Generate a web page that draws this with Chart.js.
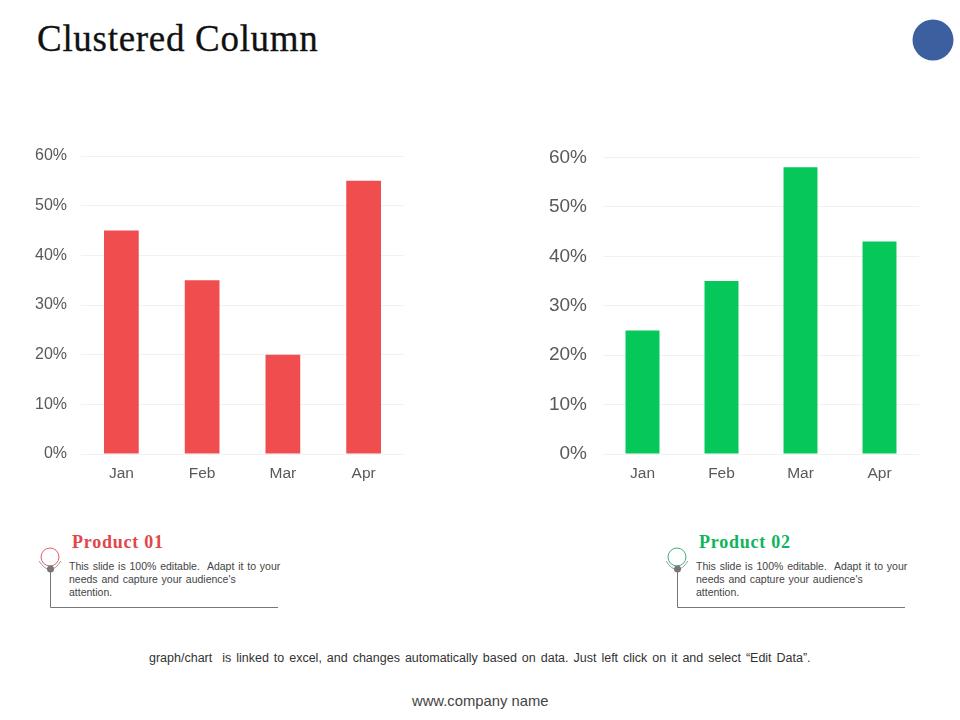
<!DOCTYPE html>
<html><head><meta charset="utf-8">
<script src="https://cdn.jsdelivr.net/npm/chart.js@4"></script>
<style>
html,body{margin:0;padding:0;background:#fff;width:960px;height:720px;overflow:hidden}
.t{position:absolute;white-space:nowrap;font-family:"Liberation Sans",sans-serif}
.s{font-family:"Liberation Serif",serif}
canvas{position:absolute}
svg{position:absolute;left:0;top:0}
</style></head><body>
<div class="t s" id="title" style="left:37px;top:18px;font-size:37px;line-height:42px;color:#111;letter-spacing:.7px;-webkit-text-stroke:.3px #111">Clustered Column</div>
<svg width="960" height="720">
<circle cx="933" cy="40" r="20.5" fill="#3c5fa0"/>
<g fill="none" stroke="#777" stroke-width="1"><path d="M50.500 569V607.500H278"/><path d="M677.500 569V607.500H905"/></g>
<circle cx="50" cy="557" r="9" fill="none" stroke="#d9616a" stroke-width="1"/>
<path d="M39 561Q50 578 61 561" fill="none" stroke="#999" stroke-width="1"/>
<circle cx="50.500" cy="569" r="3.500" fill="#777"/>
<circle cx="677" cy="557" r="9" fill="none" stroke="#3fae78" stroke-width="1"/>
<path d="M666 561Q677 578 688 561" fill="none" stroke="#999" stroke-width="1"/>
<circle cx="677.500" cy="569" r="3.500" fill="#777"/>
</svg>
<canvas id="a" style="left:0;top:130px;width:480px;height:360px"></canvas>
<canvas id="b" style="left:480px;top:130px;width:480px;height:360px"></canvas>
<div class="t s" style="left:72px;top:531px;font-size:18px;line-height:22px;font-weight:bold;color:#e0474c;letter-spacing:.75px">Product 01</div>
<div class="t s" style="left:699px;top:531px;font-size:18px;line-height:22px;font-weight:bold;color:#10b45c;letter-spacing:.75px">Product 02</div>
<div class="t" style="left:69px;top:560px;font-size:10.500px;line-height:13px;color:#444;word-spacing:.9px">This slide is 100% editable.&nbsp; Adapt it to your<br>needs and capture your audience's<br>attention.</div>
<div class="t" style="left:696px;top:560px;font-size:10.500px;line-height:13px;color:#444;word-spacing:.9px">This slide is 100% editable.&nbsp; Adapt it to your<br>needs and capture your audience's<br>attention.</div>
<div class="t" style="left:149px;top:651px;font-size:12.500px;line-height:14px;color:#333;word-spacing:1.500px">graph/chart&nbsp; is linked to excel, and changes automatically based on data. Just left click on it and select “Edit Data”.</div>
<div class="t" style="left:412px;top:693px;font-size:14.800px;line-height:16px;color:#444">www.company name</div>
<script>
const categories = ["Jan","Feb","Mar","Apr"];
const product01 = [45,35,20,55];
const product02 = [25,35,58,43];
const yMax = 60, yStep = 10;

function make(id, values, color, fs, pad, yPad, xPad){
  new Chart(document.getElementById(id),{
    type:'bar',
    data:{labels:categories,datasets:[{label:id==='a'?'Product 01':'Product 02',data:values,backgroundColor:color,barPercentage:.43,categoryPercentage:1}]},
    options:{
      responsive:false,animation:false,devicePixelRatio:1,
      layout:{padding:pad},
      plugins:{legend:{display:false},tooltip:{enabled:false}},
      scales:{
        x:{grid:{display:false},border:{display:false},
           ticks:{color:'#595959',font:{family:'"Liberation Sans"',size:15.5},padding:xPad,maxRotation:0},
           afterFit(s){s.height=36}},
        y:{min:0,max:yMax,grid:{color:'#f1f1f1',drawTicks:false},border:{display:false},
           ticks:{stepSize:yStep,color:'#595959',font:{family:'"Liberation Sans"',size:fs},padding:yPad,callback:v=>v+'%'},
           afterFit(s){s.width=pad.yw}}
      }
    }
  });
}
for(const c of ['a','b']){const e=document.getElementById(c);e.width=480;e.height=360;}
make('a',product01,'#f04d4f',16,{left:0,top:26,right:76,bottom:0,yw:81},14,2);
make('b',product02,'#05c75a',19,{left:0,top:27,right:41,bottom:0,yw:123},16,2);
</script>
</body></html>
